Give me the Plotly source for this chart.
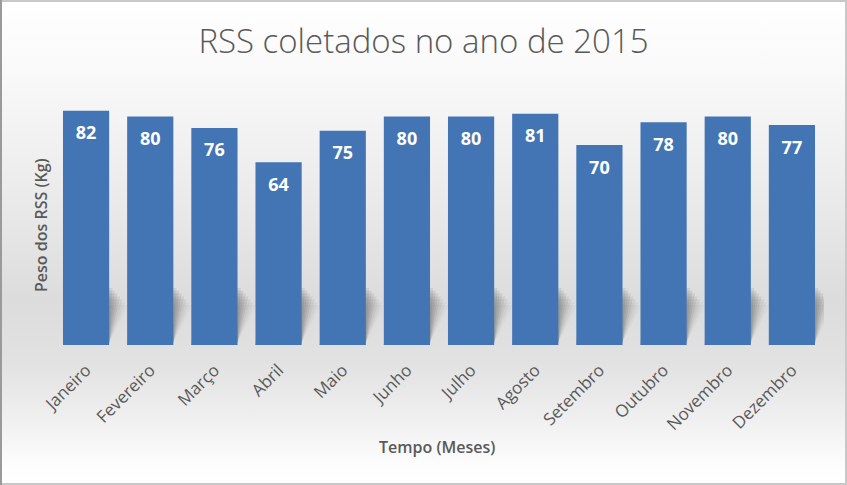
import base64
import plotly.graph_objects as go

months = ["Janeiro", "Fevereiro", "Março", "Abril", "Maio", "Junho",
          "Julho", "Agosto", "Setembro", "Outubro", "Novembro", "Dezembro"]
weights = [82, 80, 76, 64, 75, 80, 80, 81, 70, 78, 80, 77]

W, H = 847, 485
ML, MR, MT, MB = 54, 23, 88, 140
PW, PH = W - ML - MR, H - MT - MB
YMAX = 90

xs = list(range(len(months)))
bar_w = 0.72

svg = f"""<svg xmlns='http://www.w3.org/2000/svg' width='{W}' height='{H}' viewBox='0 0 {W} {H}' preserveAspectRatio='none'>
<defs><linearGradient id='g' x1='0' y1='0' x2='0' y2='1'>
<stop offset='0' stop-color='#ffffff'/>
<stop offset='0.15' stop-color='#f9f9f9'/>
<stop offset='0.40' stop-color='#ebebeb'/>
<stop offset='0.62' stop-color='#dcdcdc'/>
<stop offset='0.75' stop-color='#e2e2e2'/>
<stop offset='0.86' stop-color='#efefef'/>
<stop offset='0.96' stop-color='#fdfdfd'/>
<stop offset='1' stop-color='#ffffff'/>
</linearGradient></defs>
<rect x='0' y='0' width='{W}' height='{H}' fill='url(#g)'/>
<rect x='1' y='1' width='{W-2}' height='{H-2}' fill='none' stroke='#c8c8c8' stroke-width='2'/>
<line x1='1' y1='0' x2='1' y2='{H}' stroke='#9a9a9a' stroke-width='2'/>
</svg>"""
src = "data:image/svg+xml;base64," + base64.b64encode(svg.encode()).decode()

fig = go.Figure()

# soft "floor" shadows behind the bars (several faint layers fake a blur)
shapes = []
layers = [(0.05, 20, 0.10), (0.09, 19, 0.10), (0.13, 18, 0.10), (0.17, 17, 0.09),
          (0.21, 16, 0.07), (0.25, 15, 0.05), (0.29, 14, 0.04)]
for x in xs:
    xl, xr = x - bar_w / 2, x + bar_w / 2
    for dx, hh, op in layers:
        path = f"M {xl} 0 L {xr} 1 L {xr + dx} {hh} L {xl + dx} {hh} Z"
        shapes.append(dict(type="path", path=path, xref="x", yref="y",
                           fillcolor=f"rgba(70,70,70,{op})", line=dict(width=0),
                           layer="below"))

fig.add_trace(go.Bar(
    x=xs, y=weights, width=bar_w,
    marker=dict(color="#4375b5", line=dict(width=0)),
    hoverinfo="skip", showlegend=False,
))

label_offset = 24 / (PH / YMAX)
fig.add_trace(go.Scatter(
    x=xs, y=[v - label_offset for v in weights], mode="text",
    text=[str(v) for v in weights], textposition="middle center",
    textfont=dict(family="Open Sans", size=18, color="white", weight="bold"),
    hoverinfo="skip", showlegend=False,
))

fig.update_layout(
    width=W, height=H,
    margin=dict(l=ML, r=MR, t=MT, b=MB, autoexpand=False),
    paper_bgcolor="white", plot_bgcolor="rgba(0,0,0,0)",
    title=dict(text="RSS coletados no ano de 2015", x=0.5, xanchor="center",
               y=1 - 41 / H, yanchor="middle", yref="container",
               font=dict(family="Open Sans", size=33, color="#595959", weight=300)),
    xaxis=dict(range=[-0.5, len(months) - 0.5], tickmode="array", tickvals=xs,
               ticktext=months, tickangle=-45, showgrid=False, zeroline=False,
               showline=False, ticks="", automargin=False, ticklabelstandoff=11,
               tickfont=dict(family="Open Sans", size=17, color="#595959")),
    yaxis=dict(range=[0, YMAX], showticklabels=False, showgrid=False,
               zeroline=False, showline=False, ticks="", automargin=False),
    images=[dict(source=src, xref="paper", yref="paper",
                 x=-ML / PW, y=1 + MT / PH, sizex=W / PW, sizey=H / PH,
                 xanchor="left", yanchor="top", sizing="stretch", layer="below")],
    shapes=shapes,
    annotations=[
        dict(text="Peso dos RSS (Kg)", textangle=-90, showarrow=False,
             xref="paper", yref="paper", x=(41 - ML) / PW, y=(MT + PH - 225) / PH,
             xanchor="center", yanchor="middle",
             font=dict(family="Open Sans", size=16, color="#595959", weight=600)),
        dict(text="Tempo (Meses)", showarrow=False,
             xref="paper", yref="paper", x=(437 - ML) / PW, y=(MT + PH - 447) / PH,
             xanchor="center", yanchor="middle",
             font=dict(family="Open Sans", size=16, color="#595959", weight=600)),
    ],
)

fig.write_html("out.html", config={"displayModeBar": False},
               post_script="document.body.style.margin='0';")
